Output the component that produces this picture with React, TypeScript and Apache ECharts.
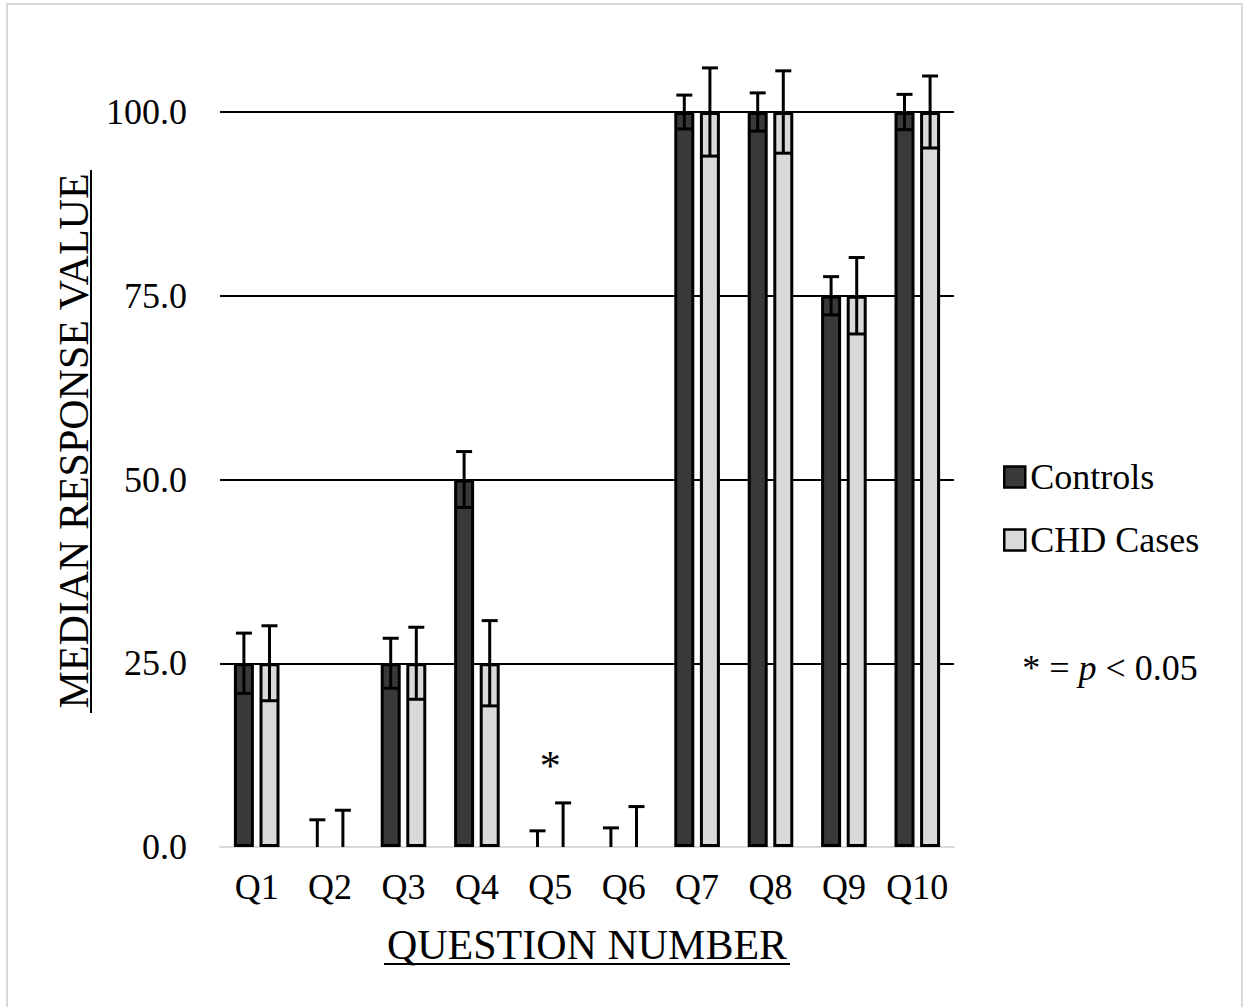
import React, { useEffect, useRef } from "react";
import * as echarts from "echarts";

const categories = ["Q1", "Q2", "Q3", "Q4", "Q5", "Q6", "Q7", "Q8", "Q9", "Q10"];
const controls = [25, 0, 25, 50, 0, 0, 100, 100, 75, 100];
const chdCases = [25, 0, 25, 25, 0, 0, 100, 100, 75, 100];
const controlsErr = [4.1, 3.7, 3.4, 3.8, 2.2, 2.6, 2.3, 2.6, 2.6, 2.4];
const chdErr = [5.1, 5.0, 4.9, 5.8, 6.0, 5.5, 6.0, 5.6, 5.2, 4.9];
const yTicks = [0, 25, 50, 75, 100];
const significant = [["Q5", 11]];

const FONT = "'Liberation Serif', 'Times New Roman', serif";

function errData(vals: number[], errs: number[]) {
  return vals.map((v, i) => [i, Math.max(0, v - errs[i]), v + errs[i]]);
}

function barData(vals: number[]) {
  return vals.map((v) => (v === 0 ? { value: v, itemStyle: { borderWidth: 0 } } : v));
}

function makeRender(offset: number) {
  return (params: any, api: any) => {
    const idx = api.value(0);
    const lo = api.value(1);
    const hi = api.value(2);
    const top = api.coord([idx, hi]);
    const bot = api.coord([idx, lo]);
    const x = top[0] + offset;
    const st = { stroke: "#000", lineWidth: 3 };
    const children: any[] = [
      { type: "line", shape: { x1: x, y1: top[1], x2: x, y2: bot[1] }, style: st },
      { type: "line", shape: { x1: x - 8, y1: top[1], x2: x + 8, y2: top[1] }, style: st },
    ];
    if (lo > 0) {
      children.push({ type: "line", shape: { x1: x - 8, y1: bot[1], x2: x + 8, y2: bot[1] }, style: st });
    }
    return { type: "group", children };
  };
}

export default function App() {
  const ref = useRef<HTMLDivElement>(null);
  useEffect(() => {
    if (!ref.current) return;
    const chart = echarts.init(ref.current, undefined, { renderer: "svg" });
    const barStyle = (color: string) => ({ color, borderColor: "#000", borderWidth: 3 });
    chart.setOption({
      animation: false,
      backgroundColor: "#fff",
      grid: { left: 220, right: 289, top: 112, bottom: 160 },
      legend: {
        data: ["Controls", "CHD Cases"],
        orient: "vertical",
        left: 998,
        top: 454,
        icon: "rect",
        itemWidth: 21,
        itemHeight: 21,
        itemGap: 27,
        itemStyle: { borderWidth: 2.5, borderColor: "#000" },
        textStyle: { fontFamily: FONT, fontSize: 36, color: "#000", padding: [0, 0, 0, 0] },
      },
      xAxis: {
        type: "category",
        data: categories,
        axisLine: { show: true, lineStyle: { color: "#d9d9d9", width: 2 } },
        axisTick: { show: false },
        axisLabel: { fontFamily: FONT, fontSize: 36, color: "#000", margin: 22, interval: 0 },
      },
      yAxis: {
        type: "value",
        min: 0,
        max: 100,
        interval: 25,
        axisLine: { show: false },
        axisTick: { show: false },
        splitLine: { show: true, lineStyle: { color: "#000", width: 2 } },
        axisLabel: {
          fontFamily: FONT,
          fontSize: 36,
          color: "#000",
          margin: 33,
          formatter: (v: number) => (yTicks.includes(v) ? v.toFixed(1) : ""),
        },
      },
      series: [
        {
          name: "Controls",
          type: "bar",
          data: barData(controls),
          barWidth: 20,
          barGap: "28%",
          itemStyle: barStyle("#3a3938"),
        },
        {
          name: "CHD Cases",
          type: "bar",
          data: barData(chdCases),
          barWidth: 20,
          barGap: "28%",
          itemStyle: barStyle("#d9d9d9"),
        },
        {
          name: "Controls err",
          type: "custom",
          data: errData(controls, controlsErr),
          renderItem: makeRender(-12.8),
          clip: false,
          z: 5,
        },
        {
          name: "CHD err",
          type: "custom",
          data: errData(chdCases, chdErr),
          renderItem: makeRender(12.8),
          clip: false,
          z: 5,
        },
        {
          name: "sig",
          type: "scatter",
          data: significant,
          symbolSize: 1,
          itemStyle: { opacity: 1, color: "rgba(0,0,0,0)" },
          label: {
            show: true,
            position: "inside",
            formatter: "*",
            fontFamily: FONT,
            fontSize: 42,
            color: "#000",
            opacity: 1,
          },
          z: 6,
        },
      ],
      graphic: [
        {
          type: "rect",
          shape: { x: 7, y: 4, width: 1235, height: 1010 },
          style: { fill: "none", stroke: "#d9d9d9", lineWidth: 2 },
          silent: true,
        },
        {
          type: "text",
          x: 74,
          y: 441,
          rotation: Math.PI / 2,
          style: {
            text: "MEDIAN RESPONSE VALUE",
            fontFamily: FONT,
            fontSize: 42,
            fill: "#000",
            align: "center",
            verticalAlign: "middle",
          },
        },
        {
          type: "line",
          shape: { x1: 91, y1: 170, x2: 91, y2: 713 },
          style: { stroke: "#000", lineWidth: 2 },
        },
        {
          type: "text",
          x: 587,
          y: 945,
          style: {
            text: "QUESTION NUMBER",
            fontFamily: FONT,
            fontSize: 42,
            fill: "#000",
            align: "center",
            verticalAlign: "middle",
          },
        },
        {
          type: "line",
          shape: { x1: 384, y1: 964, x2: 790, y2: 964 },
          style: { stroke: "#000", lineWidth: 2 },
        },
        {
          type: "text",
          x: 1110,
          y: 668,
          style: {
            text: "* = {it|p} < 0.05",
            fontFamily: FONT,
            fontSize: 36,
            fill: "#000",
            align: "center",
            verticalAlign: "middle",
            rich: { it: { fontFamily: FONT, fontSize: 36, fontStyle: "italic", fill: "#000" } },
          },
        },
      ],
    });
    return () => chart.dispose();
  }, []);
  return (
    <div
      ref={ref}
      style={{ position: "absolute", left: 0, top: 0, width: 1243, height: 1007, background: "#fff" }}
    />
  );
}
